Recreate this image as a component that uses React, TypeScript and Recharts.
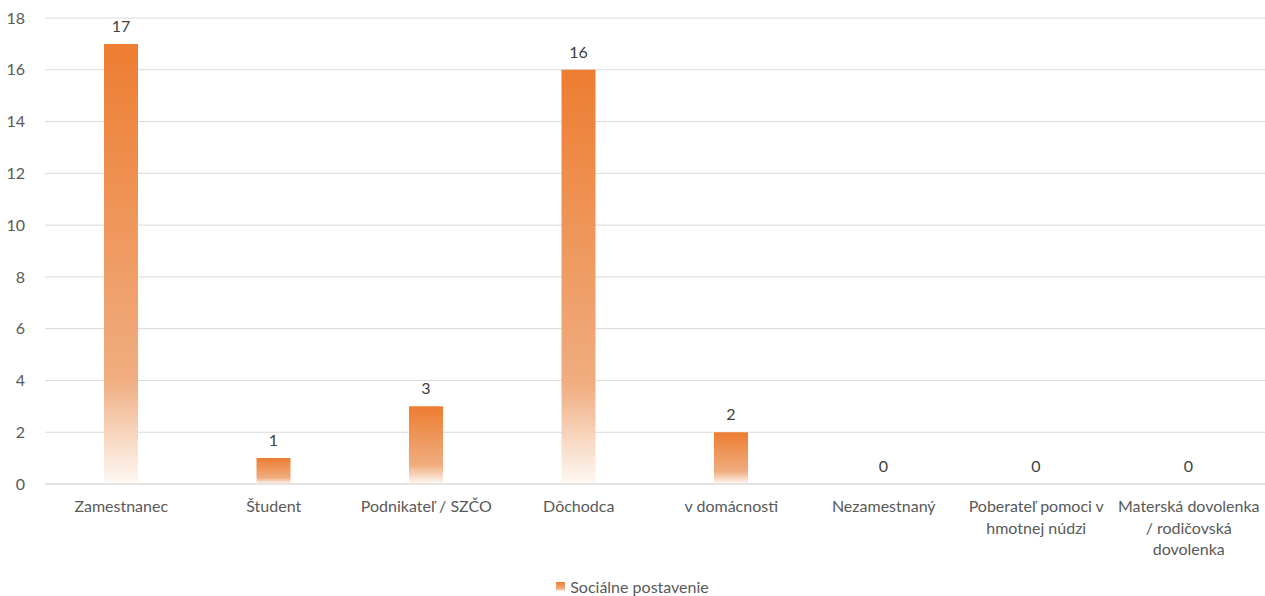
import { BarChart, Bar, XAxis, YAxis, CartesianGrid, LabelList, Legend, Text } from "recharts";

const categories = [
  "Zamestnanec",
  "Študent",
  "Podnikateľ / SZČO",
  "Dôchodca",
  "v domácnosti",
  "Nezamestnaný",
  "Poberateľ pomoci v hmotnej núdzi",
  "Materská dovolenka / rodičovská dovolenka",
];
const values = [17, 1, 3, 16, 2, 0, 0, 0];
const yTicks = [0, 2, 4, 6, 8, 10, 12, 14, 16, 18];
const seriesName = "Sociálne postavenie";

const data = categories.map((name, i) => ({ name, value: values[i] }));

const FONT = "Lato, 'Open Sans', sans-serif";
const TEXT = "#595959";

function CategoryTick(props: any) {
  const { x, y, payload } = props;
  return (
    <Text
      x={x}
      y={y}
      width={150}
      textAnchor="middle"
      verticalAnchor="start"
      lineHeight={21.5}
      style={{ fontSize: 16, fill: TEXT, fontFamily: FONT }}
    >
      {payload.value}
    </Text>
  );
}

function ValueLabel(props: any) {
  const { x, y, width, value } = props;
  return (
    <text
      x={x + width / 2}
      y={y - 12}
      textAnchor="middle"
      style={{ fontSize: 16, fill: "#404040", fontFamily: FONT }}
    >
      {value}
    </text>
  );
}

function LegendContent() {
  return (
    <div
      style={{
        display: "flex",
        justifyContent: "center",
        alignItems: "center",
        height: 32,
        paddingTop: 12,
        boxSizing: "border-box",
        fontFamily: FONT,
        fontSize: 16,
        color: TEXT,
      }}
    >
      <svg width={9} height={9} style={{ marginRight: 5 }}>
        <rect width={9} height={9} fill="url(#barFade)" />
      </svg>
      {seriesName}
    </div>
  );
}

export default function App() {
  return (
    <div style={{ position: "absolute", left: 0, top: 0, background: "#fff" }}>
      <BarChart
        width={1265}
        height={596}
        data={data}
        margin={{ top: 18, right: 0, left: 0, bottom: 0 }}
        barCategoryGap={0}
      >
        <defs>
          <linearGradient id="barFade" x1="0" y1="0" x2="0" y2="1">
            <stop offset="0%" stopColor="#ED7D31" />
            <stop offset="76%" stopColor="#F0AD80" />
            <stop offset="100%" stopColor="#FEF9F5" />
          </linearGradient>
        </defs>
        <CartesianGrid vertical={false} stroke="#D9D9D9" strokeWidth={1} />
        <XAxis
          dataKey="name"
          interval={0}
          height={80}
          tickLine={false}
          axisLine={{ stroke: "#D9D9D9" }}
          tick={<CategoryTick />}
          tickMargin={11}
        />
        <YAxis
          width={45}
          domain={[0, 18]}
          ticks={yTicks}
          tickLine={false}
          axisLine={false}
          tickMargin={14}
          tick={{ fontSize: 16, fill: TEXT, fontFamily: FONT }}
        />
        <Legend verticalAlign="bottom" height={32} content={<LegendContent />} />
        <Bar
          dataKey="value"
          name={seriesName}
          fill="url(#barFade)"
          barSize={34}
          minPointSize={0.01}
          isAnimationActive={false}
        >
          <LabelList dataKey="value" content={<ValueLabel />} />
        </Bar>
      </BarChart>
    </div>
  );
}
